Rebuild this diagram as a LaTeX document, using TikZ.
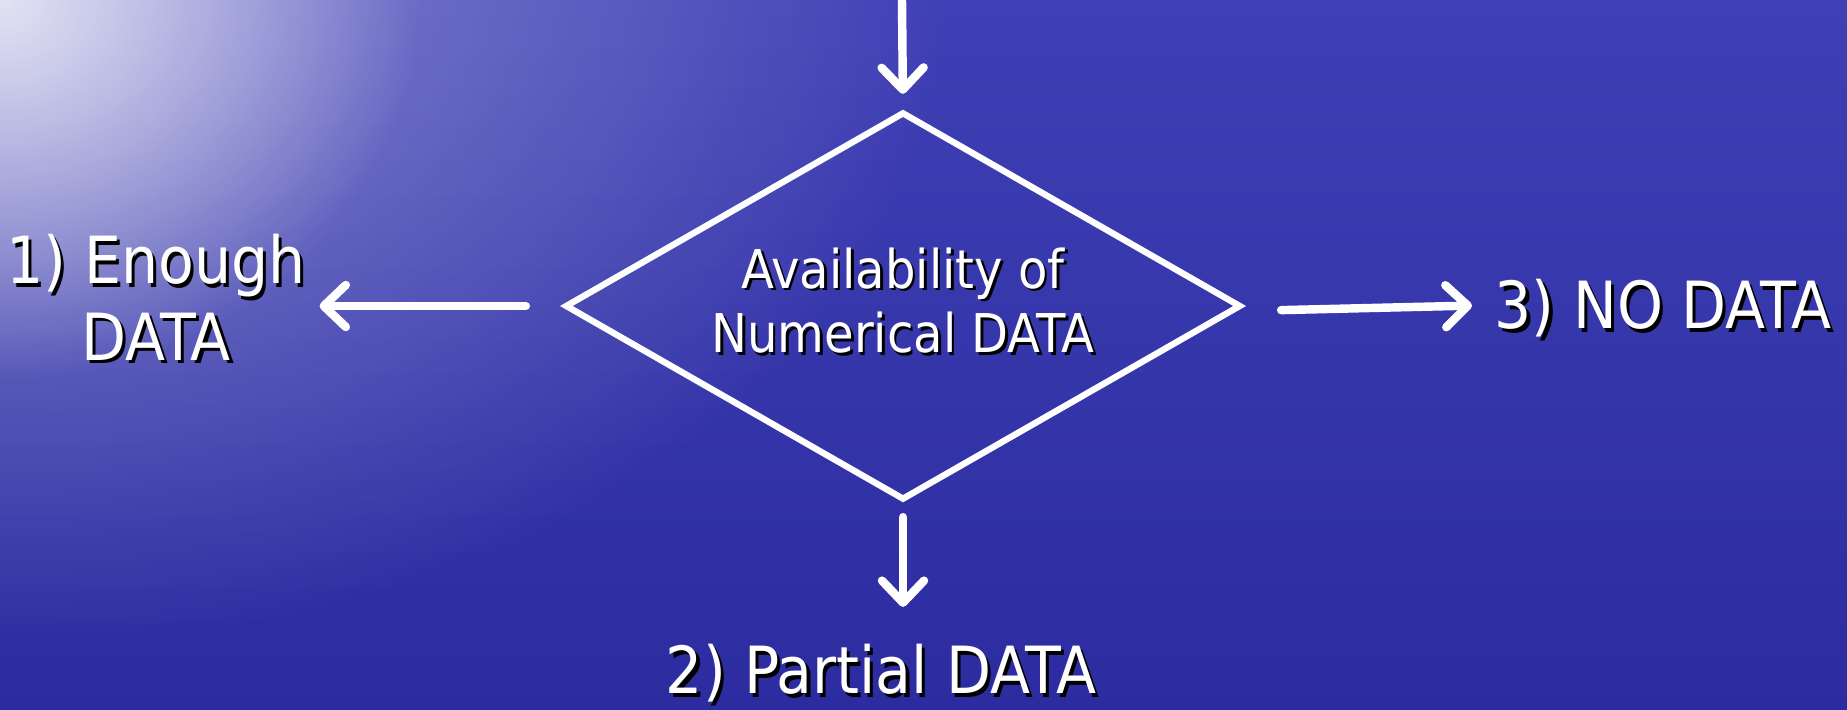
\documentclass[tikz,border=0pt]{standalone}
\usepackage{fontspec}
\newfontfamily\slidefont{DejaVu Sans Condensed}
\usetikzlibrary{shapes.geometric,arrows.meta,fadings}

\definecolor{seatop}{RGB}{64,64,182}
\definecolor{seabottom}{RGB}{44,44,160}

\tikzfading[name=glow, inner color=transparent!0, outer color=transparent!100]

% white text with a small black drop shadow
\newcommand{\shadowed}[1]{\makebox[0pt][l]{\hspace{0.05em}\raisebox{-0.05em}{\textcolor{black}{#1}}}#1}

\begin{document}
\begin{tikzpicture}
  \pgfmathsetmacro{\W}{18.47} % picture width
  \pgfmathsetmacro{\H}{7.1}   % picture height

  \tikzset{
    flow/.style={white, line width=2.4pt, line cap=round,
      -{Straight Barb[length=0.22cm, width=0.42cm, line cap=round, line join=round]}},
    decision/.style={diamond, draw=white, line width=1.8pt, aspect=1.74, inner sep=0pt,
      minimum width=6.76cm, minimum height=3.88cm, text=white, align=center,
      font=\slidefont\fontsize{15.2}{18.3}\selectfont},
    outcome/.style={text=white, align=center, inner sep=2pt,
      font=\slidefont\fontsize{18.5}{21.8}\selectfont},
  }

  % sea background, light in the upper left corner
  \useasboundingbox (0,0) rectangle (\W,\H);
  \clip (0,0) rectangle (\W,\H);
  \shade[top color=seatop, bottom color=seabottom] (0,0) rectangle (\W,\H);
  \fill[white, path fading=glow, fill opacity=0.4] (0,\H) ellipse (9.5 and 6.5);
  \fill[white, path fading=glow, fill opacity=0.75] (0,\H) ellipse (4.2 and 3.8);

  \node[decision] (avail) at (9.03,4.04)
    {\shadowed{Availability of}\\\shadowed{Numerical DATA}\rule[-0.12cm]{0pt}{1pt}};

  \node[outcome] (enough) at (1.56,4.11) {\shadowed{1) Enough}\\\shadowed{DATA}};
  \node[outcome, anchor=base] (partial) at (8.81,0.16) {\shadowed{2) Partial DATA}};
  \node[outcome, anchor=base] (nodata) at (16.63,3.81) {\shadowed{3) NO DATA}};

  \coordinate (inlet) at (9.02,\H);

  \draw[flow, shorten >=0.15cm] (inlet) -- (avail.north);
  \draw[flow, shorten <=0.36cm, shorten >=0.06cm] (avail.west) -- (avail.west -| enough.east);
  \draw[flow, shorten <=0.14cm, shorten >=0.3cm] (avail.south) -- (avail.south |- partial.north);
  \draw[flow, shorten <=0.37cm, shorten >=0.15cm] ([yshift=-0.05cm]avail.east) -- ([yshift=0.05cm]nodata.west);
\end{tikzpicture}
\end{document}
